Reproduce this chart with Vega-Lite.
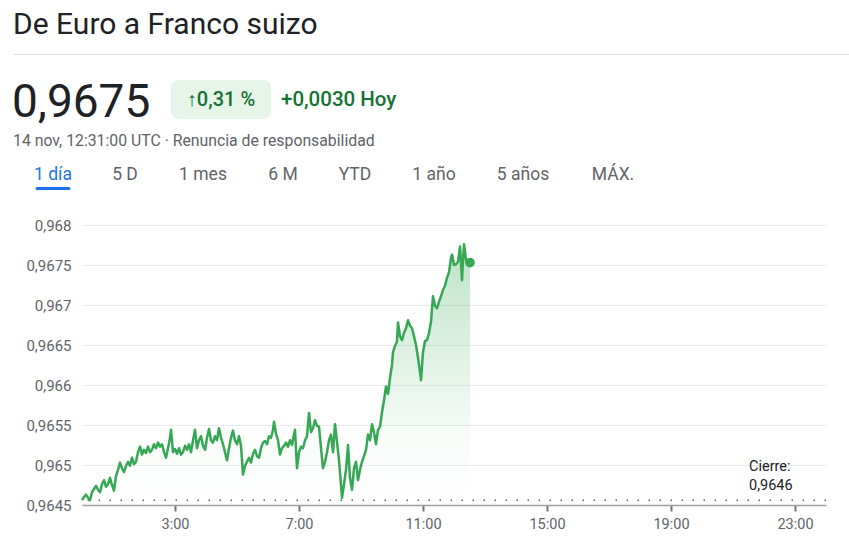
{
  "$schema": "https://vega.github.io/schema/vega-lite/v6.json",
  "autosize": {"type": "none"},
  "padding": {"left": 82, "top": 225, "right": 23, "bottom": 47},
  "width": 744,
  "height": 280,
  "background": "white",
  "config": {"view": {"stroke": null}, "font": "Roboto"},
  "datasets": {
    "fx": [
      {"h":0,"v":0.96456},{"h":0.065,"v":0.9646},{"h":0.129,"v":0.96463},{"h":0.194,"v":0.96459},{"h":0.258,"v":0.96456},
      {"h":0.323,"v":0.96466},{"h":0.387,"v":0.9647},{"h":0.452,"v":0.96474},{"h":0.516,"v":0.96469},{"h":0.581,"v":0.96466},
      {"h":0.645,"v":0.96476},{"h":0.71,"v":0.96481},{"h":0.774,"v":0.96473},{"h":0.839,"v":0.96476},{"h":0.903,"v":0.96484},
      {"h":0.968,"v":0.96475},{"h":1.032,"v":0.96468},{"h":1.097,"v":0.96486},{"h":1.161,"v":0.96494},{"h":1.226,"v":0.96503},
      {"h":1.29,"v":0.96496},{"h":1.355,"v":0.96491},{"h":1.419,"v":0.96499},{"h":1.484,"v":0.96504},{"h":1.548,"v":0.96499},
      {"h":1.613,"v":0.96509},{"h":1.677,"v":0.96501},{"h":1.742,"v":0.96504},{"h":1.806,"v":0.96516},{"h":1.871,"v":0.96523},
      {"h":1.935,"v":0.96513},{"h":2.0,"v":0.96519},{"h":2.065,"v":0.96515},{"h":2.129,"v":0.96523},{"h":2.194,"v":0.96516},
      {"h":2.258,"v":0.96519},{"h":2.323,"v":0.96526},{"h":2.387,"v":0.96521},{"h":2.452,"v":0.96528},{"h":2.516,"v":0.96523},
      {"h":2.581,"v":0.96526},{"h":2.645,"v":0.96516},{"h":2.71,"v":0.96509},{"h":2.774,"v":0.96521},{"h":2.839,"v":0.96534},
      {"h":2.871,"v":0.96544},{"h":2.935,"v":0.96516},{"h":3.0,"v":0.9652},{"h":3.065,"v":0.96514},{"h":3.129,"v":0.96521},
      {"h":3.194,"v":0.96513},{"h":3.258,"v":0.96516},{"h":3.323,"v":0.96524},{"h":3.387,"v":0.96519},{"h":3.452,"v":0.96526},
      {"h":3.516,"v":0.96516},{"h":3.581,"v":0.96531},{"h":3.645,"v":0.96544},{"h":3.71,"v":0.96521},{"h":3.774,"v":0.96531},
      {"h":3.839,"v":0.96536},{"h":3.903,"v":0.96524},{"h":3.968,"v":0.96519},{"h":4.032,"v":0.96534},{"h":4.097,"v":0.96545},
      {"h":4.161,"v":0.96531},{"h":4.226,"v":0.96528},{"h":4.29,"v":0.96536},{"h":4.355,"v":0.96531},{"h":4.419,"v":0.96546},
      {"h":4.484,"v":0.96534},{"h":4.548,"v":0.96526},{"h":4.613,"v":0.96516},{"h":4.677,"v":0.96506},{"h":4.742,"v":0.96521},
      {"h":4.806,"v":0.96534},{"h":4.871,"v":0.96543},{"h":4.935,"v":0.96531},{"h":5.0,"v":0.96526},{"h":5.065,"v":0.96536},
      {"h":5.129,"v":0.96524},{"h":5.194,"v":0.96488},{"h":5.258,"v":0.96499},{"h":5.323,"v":0.96504},{"h":5.387,"v":0.96509},
      {"h":5.452,"v":0.96503},{"h":5.516,"v":0.96514},{"h":5.581,"v":0.96519},{"h":5.645,"v":0.96511},{"h":5.71,"v":0.96509},
      {"h":5.774,"v":0.96521},{"h":5.839,"v":0.96528},{"h":5.903,"v":0.9653},{"h":5.968,"v":0.96526},{"h":6.032,"v":0.96536},
      {"h":6.097,"v":0.96534},{"h":6.161,"v":0.96544},{"h":6.194,"v":0.96554},{"h":6.258,"v":0.96539},{"h":6.323,"v":0.96531},
      {"h":6.387,"v":0.96513},{"h":6.452,"v":0.96521},{"h":6.516,"v":0.96524},{"h":6.581,"v":0.96528},{"h":6.645,"v":0.96523},
      {"h":6.71,"v":0.96531},{"h":6.774,"v":0.96525},{"h":6.839,"v":0.96538},{"h":6.871,"v":0.96544},{"h":6.935,"v":0.96496},
      {"h":7.0,"v":0.96516},{"h":7.065,"v":0.96523},{"h":7.129,"v":0.96521},{"h":7.194,"v":0.96531},{"h":7.258,"v":0.96536},
      {"h":7.323,"v":0.96565},{"h":7.387,"v":0.96541},{"h":7.452,"v":0.96546},{"h":7.516,"v":0.96556},{"h":7.581,"v":0.96549},
      {"h":7.645,"v":0.96548},{"h":7.71,"v":0.96521},{"h":7.774,"v":0.96496},{"h":7.839,"v":0.96504},{"h":7.903,"v":0.96516},
      {"h":7.968,"v":0.96531},{"h":8.032,"v":0.96538},{"h":8.097,"v":0.96516},{"h":8.161,"v":0.96551},{"h":8.226,"v":0.96529},
      {"h":8.29,"v":0.96506},{"h":8.355,"v":0.96475},{"h":8.387,"v":0.96459},{"h":8.452,"v":0.96476},{"h":8.516,"v":0.96494},
      {"h":8.581,"v":0.96525},{"h":8.645,"v":0.96484},{"h":8.71,"v":0.96469},{"h":8.774,"v":0.96496},{"h":8.839,"v":0.96504},
      {"h":8.903,"v":0.96481},{"h":8.968,"v":0.96494},{"h":9.032,"v":0.96504},{"h":9.097,"v":0.96511},{"h":9.161,"v":0.96519},
      {"h":9.226,"v":0.96538},{"h":9.29,"v":0.96531},{"h":9.355,"v":0.96551},{"h":9.419,"v":0.96541},{"h":9.484,"v":0.96526},
      {"h":9.548,"v":0.96544},{"h":9.613,"v":0.96548},{"h":9.677,"v":0.96566},{"h":9.742,"v":0.96581},{"h":9.806,"v":0.96598},
      {"h":9.871,"v":0.96589},{"h":9.935,"v":0.96609},{"h":10.0,"v":0.96625},{"h":10.032,"v":0.96641},{"h":10.097,"v":0.96649},
      {"h":10.161,"v":0.96654},{"h":10.194,"v":0.96678},{"h":10.258,"v":0.96661},{"h":10.323,"v":0.96656},{"h":10.387,"v":0.96665},
      {"h":10.452,"v":0.96671},{"h":10.516,"v":0.96681},{"h":10.581,"v":0.96674},{"h":10.645,"v":0.96671},{"h":10.71,"v":0.96661},
      {"h":10.774,"v":0.9665},{"h":10.839,"v":0.96634},{"h":10.903,"v":0.96616},{"h":10.935,"v":0.96606},{"h":11.0,"v":0.96641},
      {"h":11.065,"v":0.96655},{"h":11.129,"v":0.96656},{"h":11.194,"v":0.96665},{"h":11.258,"v":0.96679},{"h":11.323,"v":0.96711},
      {"h":11.387,"v":0.96699},{"h":11.452,"v":0.96696},{"h":11.516,"v":0.96704},{"h":11.581,"v":0.96711},{"h":11.645,"v":0.96719},
      {"h":11.71,"v":0.96724},{"h":11.774,"v":0.96734},{"h":11.839,"v":0.96741},{"h":11.903,"v":0.96759},{"h":11.935,"v":0.96763},
      {"h":12.0,"v":0.9675},{"h":12.065,"v":0.96751},{"h":12.129,"v":0.96754},{"h":12.194,"v":0.96773},{"h":12.226,"v":0.96754},
      {"h":12.258,"v":0.96731},{"h":12.29,"v":0.96756},{"h":12.323,"v":0.96776},{"h":12.387,"v":0.96756},{"h":12.452,"v":0.96754},
      {"h":12.516,"v":0.96753}
    ]
  },
  "layer": [
    {
      "data": {"values": [{"close": 0.96456}]},
      "mark": {"type": "rule", "color": "#5f6368", "strokeWidth": 1.5, "strokeDash": [1.5, 9.5]},
      "encoding": {
        "y": {"field": "close", "type": "quantitative",
          "scale": {"domain": [0.9645, 0.968], "nice": false, "zero": false},
          "axis": {"values": [0.9645, 0.965, 0.9655, 0.966, 0.9665, 0.967, 0.9675, 0.968],
            "tickCount": 20, "labelOverlap": false,
            "labelExpr": "replace(format(datum.value, '.4~f'), '.', ',')",
            "title": null, "domain": false, "ticks": false, "tickSize": 0, "grid": true,
            "gridColor": "#e8eaed", "gridWidth": 1, "labelPadding": 11, "labelFontSize": 15,
            "labelColor": "#5f6368", "labelFont": "Roboto"}}
      }
    },
    {
      "data": {"name": "fx"},
      "mark": {"type": "area", "line": false,
        "fill": {"gradient": "linear", "x1": 0, "y1": 0, "x2": 0, "y2": 1,
          "stops": [{"offset": 0, "color": "rgba(52,168,83,0.32)"}, {"offset": 0.75, "color": "rgba(52,168,83,0.03)"}, {"offset": 1, "color": "rgba(52,168,83,0)"}]}},
      "encoding": {
        "x": {"field": "h", "type": "quantitative",
          "scale": {"domain": [0, 24], "nice": false, "zero": false},
          "axis": {"values": [3, 7, 11, 15, 19, 23], "tickCount": 20, "labelExpr": "datum.value + ':00'", "title": null,
            "grid": false, "domainColor": "#9aa0a6", "domainWidth": 1.5, "tickColor": "#70757a",
            "tickSize": 6, "tickWidth": 2, "labelPadding": 6, "labelFontSize": 14.5,
            "labelColor": "#5f6368", "labelFont": "Roboto"}},
        "y": {"field": "v", "type": "quantitative"},
        "y2": {"datum": 0.9645}
      }
    },
    {
      "data": {"name": "fx"},
      "mark": {"type": "line", "color": "#34a853", "strokeWidth": 2.5, "strokeJoin": "round"},
      "encoding": {
        "x": {"field": "h", "type": "quantitative"},
        "y": {"field": "v", "type": "quantitative"}
      }
    },
    {
      "data": {"name": "fx"},
      "transform": [{"filter": "datum.h > 12.5"}],
      "mark": {"type": "point", "filled": true, "size": 95, "color": "#34a853", "opacity": 1},
      "encoding": {
        "x": {"field": "h", "type": "quantitative"},
        "y": {"field": "v", "type": "quantitative"}
      }
    },
    {
      "data": {"values": [{"t": "Cierre:\n0,9646"}]},
      "mark": {"type": "text", "align": "left", "baseline": "alphabetic", "lineBreak": "\n", "lineHeight": 18.5, "fontSize": 14.5, "color": "#202124"},
      "encoding": {"x": {"datum": 21.516}, "y": {"datum": 0.96492}, "text": {"field": "t"}}
    },
    {
      "data": {"values": [{"t": "De Euro a Franco suizo"}]},
      "mark": {"type": "text", "align": "left", "baseline": "alphabetic", "fontSize": 30, "color": "#202124"},
      "encoding": {"x": {"datum": -2.2258}, "y": {"datum": 0.9703875}, "text": {"field": "t"}}
    },
    {
      "data": {"values": [{"s": "sep"}]},
      "mark": {"type": "rule", "color": "#dadce0", "strokeWidth": 1},
      "encoding": {"x": {"datum": -2.19355}, "x2": {"datum": 24.7419}, "y": {"datum": 0.97013125}}
    },
    {
      "data": {"values": [{"t": "0,9675"}]},
      "mark": {"type": "text", "align": "left", "baseline": "alphabetic", "fontSize": 46, "color": "#202124"},
      "encoding": {"x": {"datum": -2.258}, "y": {"datum": 0.96935}, "text": {"field": "t"}}
    },
    {
      "data": {"values": [{"s": "badge"}]},
      "mark": {"type": "rect", "fill": "#e6f4ea", "cornerRadius": 8},
      "encoding": {"x": {"datum": 2.871}, "x2": {"datum": 6.0968}, "y": {"datum": 0.9698125}, "y2": {"datum": 0.969325}}
    },
    {
      "data": {"values": [{"t": "↑0,31 %"}]},
      "mark": {"type": "text", "align": "center", "baseline": "alphabetic", "fontSize": 20, "fontWeight": 500, "color": "#137333"},
      "encoding": {"x": {"datum": 4.4839}, "y": {"datum": 0.9694875}, "text": {"field": "t"}}
    },
    {
      "data": {"values": [{"t": "+0,0030 Hoy"}]},
      "mark": {"type": "text", "align": "left", "baseline": "alphabetic", "fontSize": 20.5, "fontWeight": 500, "color": "#137333"},
      "encoding": {"x": {"datum": 6.4194}, "y": {"datum": 0.9694875}, "text": {"field": "t"}}
    },
    {
      "data": {"values": [{"t": "14 nov, 12:31:00 UTC · Renuncia de responsabilidad"}]},
      "mark": {"type": "text", "align": "left", "baseline": "alphabetic", "fontSize": 15.8, "color": "#5f6368"},
      "encoding": {"x": {"datum": -2.2258}, "y": {"datum": 0.96899375}, "text": {"field": "t"}}
    },
    {
      "data": {"values": [{"t": "1 día"}]},
      "mark": {"type": "text", "align": "center", "baseline": "alphabetic", "fontSize": 17.5, "color": "#1a73e8"},
      "encoding": {"x": {"datum": -0.9355}, "y": {"datum": 0.9685625}, "text": {"field": "t"}}
    },
    {
      "data": {"values": [{"t": "5 D"}]},
      "mark": {"type": "text", "align": "center", "baseline": "alphabetic", "fontSize": 17.5, "color": "#5f6368"},
      "encoding": {"x": {"datum": 1.3871}, "y": {"datum": 0.9685625}, "text": {"field": "t"}}
    },
    {
      "data": {"values": [{"t": "1 mes"}]},
      "mark": {"type": "text", "align": "center", "baseline": "alphabetic", "fontSize": 17.5, "color": "#5f6368"},
      "encoding": {"x": {"datum": 3.9032}, "y": {"datum": 0.9685625}, "text": {"field": "t"}}
    },
    {
      "data": {"values": [{"t": "6 M"}]},
      "mark": {"type": "text", "align": "center", "baseline": "alphabetic", "fontSize": 17.5, "color": "#5f6368"},
      "encoding": {"x": {"datum": 6.4839}, "y": {"datum": 0.9685625}, "text": {"field": "t"}}
    },
    {
      "data": {"values": [{"t": "YTD"}]},
      "mark": {"type": "text", "align": "center", "baseline": "alphabetic", "fontSize": 17.5, "color": "#5f6368"},
      "encoding": {"x": {"datum": 8.8065}, "y": {"datum": 0.9685625}, "text": {"field": "t"}}
    },
    {
      "data": {"values": [{"t": "1 año"}]},
      "mark": {"type": "text", "align": "center", "baseline": "alphabetic", "fontSize": 17.5, "color": "#5f6368"},
      "encoding": {"x": {"datum": 11.3548}, "y": {"datum": 0.9685625}, "text": {"field": "t"}}
    },
    {
      "data": {"values": [{"t": "5 años"}]},
      "mark": {"type": "text", "align": "center", "baseline": "alphabetic", "fontSize": 17.5, "color": "#5f6368"},
      "encoding": {"x": {"datum": 14.2258}, "y": {"datum": 0.9685625}, "text": {"field": "t"}}
    },
    {
      "data": {"values": [{"t": "MÁX."}]},
      "mark": {"type": "text", "align": "center", "baseline": "alphabetic", "fontSize": 17.5, "color": "#5f6368"},
      "encoding": {"x": {"datum": 17.129}, "y": {"datum": 0.9685625}, "text": {"field": "t"}}
    },
    {
      "data": {"values": [{"s": "underline"}]},
      "mark": {"type": "rule", "color": "#1a73e8", "strokeWidth": 3, "strokeCap": "round"},
      "encoding": {"x": {"datum": -1.4516}, "x2": {"datum": -0.4194}, "y": {"datum": 0.96845625}}
    }
  ]
}
